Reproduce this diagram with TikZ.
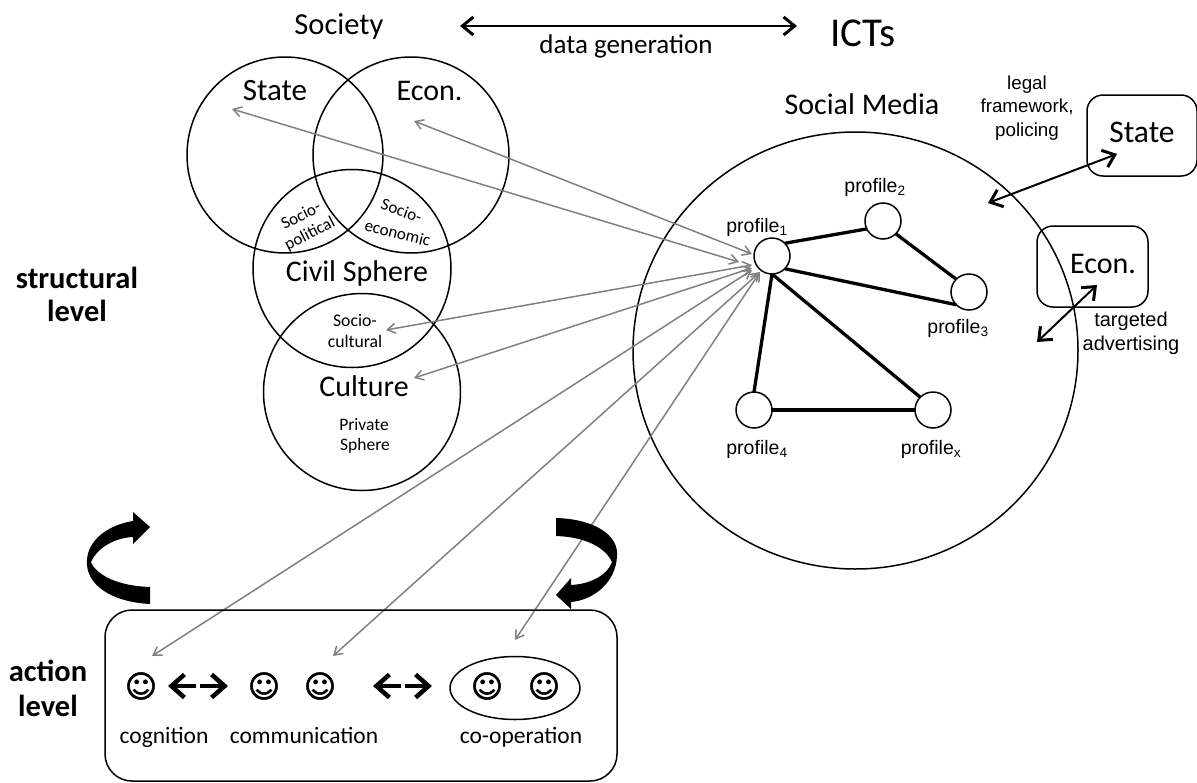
\documentclass[tikz,border=0pt]{standalone}
\usepackage{fontspec}
\setmainfont{Carlito}
\newfontfamily\arialf{Liberation Sans}
\newfontfamily\dejaf[FakeBold=1.6]{DejaVu Sans}
\usetikzlibrary{arrows.meta,shapes.geometric}
\newcommand\fsz[2]{\fontsize{#1}{#2}\selectfont}
\tikzset{
  venn/.style={circle,draw=black,line width=1.5pt,minimum size=#1,inner sep=0pt,outer sep=0pt},
  prof/.style={circle,draw=black,fill=white,line width=1.5pt,minimum size=36pt,inner sep=0pt,outer sep=0pt},
  lbl/.style={inner sep=0pt,outer sep=0pt,align=center,text=black,font=\fsz{#1}{#1}},
  plbl/.style={inner sep=0pt,outer sep=0pt,align=center,text=black,font=\arialf\fsz{19.5}{19.5}},
  sm/.style={inner sep=0pt,outer sep=0pt,font=\dejaf\fsz{31}{31}},
  box/.style={draw=black,line width=1.5pt,rounded corners=16pt,inner sep=0pt,outer sep=0pt},
  edge/.style={draw=black,line width=3.3pt},
  grey/.style={draw=black!50,line width=1.5pt,{Straight Barb[length=8pt,width=10pt]}-{Straight Barb[length=8pt,width=10pt]}},
  blk/.style={draw=black,line width=2pt,{Straight Barb[length=11pt,width=18pt,line width=3pt]}-{Straight Barb[length=11pt,width=18pt,line width=3pt]}},
  thickarrow/.style={draw=black,line width=4.5pt,-{Straight Barb[length=13pt,width=23pt,line width=4.5pt]}},
  swoosh/.style={fill=black,draw=none},
}
\begin{document}
\begin{tikzpicture}[x=1pt,y=-1pt]
\useasboundingbox (0,0) rectangle (1197,782);
% venn
\node[venn=196pt] (vstate) at (285,155) {};
\node[venn=196pt] (vecon) at (411,155) {};
\node[venn=198pt] (vcivil) at (352,268.5) {};
\node[venn=197pt] (vcult) at (362,392) {};
\node[ellipse,draw=black,line width=1.5pt,minimum width=445pt,minimum height=437pt,inner sep=0pt,outer sep=0pt] (social) at (855.5,350.5) {};
% labels
\node[lbl=30.5] (tsoc) at (339,26) {Society};
\node[lbl=41] (tict) at (863,33) {ICTs};
\node[lbl=27] (tdata) at (626,46) {data generation};
\node[lbl=31] (tstate) at (275,91) {State};
\node[lbl=30] (tecon) at (429.5,91) {Econ.};
\node[lbl=30] (tmedia) at (862,104) {Social Media};
\node[lbl=30] (tcivil) at (357,273) {Civil Sphere};
\node[lbl=30] (tcult) at (364,386) {Culture};
\node[lbl=17,rotate=27] (tsp1) at (300.7,215) {Socio-};
\node[lbl=17,rotate=27] (tsp2) at (310,234) {political};
\node[lbl=17,rotate=-20] (tse1) at (401.7,210.7) {Socio-};
\node[lbl=17,rotate=-14] (tse2) at (397.7,233) {economic};
\node[lbl=17.7] (tsc1) at (355,320) {Socio-};
\node[lbl=17.7] (tsc2) at (355,341) {cultural};
\node[lbl=17.5] (tps1) at (364,425) {Private};
\node[lbl=17.5] (tps2) at (365,446) {Sphere};
\node[lbl=25,font=\bfseries\fsz{30.5}{33}] (tstruct) at (77,294) {structural\\level};
\node[lbl=26,font=\bfseries\fsz{30.5}{35}] (taction) at (48,688) {action\\level};
% right boxes
\node[box,minimum width=110pt,minimum height=81pt] (bstate) at (1142,135.5) {};
\node[box,minimum width=111pt,minimum height=81pt] (becon) at (1092.5,266.5) {};
\node[lbl=31.5] (tbstate) at (1142,132) {State};
\node[lbl=30] (tbecon) at (1103,264) {Econ.};
\node[plbl,font=\arialf\fsz{18.8}{23.6}] (tlegal) at (1027,108) {legal\\framework,\\policing};
\node[plbl,font=\arialf\fsz{20}{24}] (tadv) at (1131,333) {targeted\\advertising};
% profiles
\node[prof] (p1) at (772,256) {};
\node[prof] (p2) at (883,221) {};
\node[prof] (p3) at (969,292) {};
\node[prof] (p4) at (754,410) {};
\node[prof] (px) at (933,410) {};
\node[plbl] (l1) at (757,227) {profile\textsubscript{1}};
\node[plbl] (l2) at (875,187) {profile\textsubscript{2}};
\node[plbl] (l3) at (958,328) {profile\textsubscript{3}};
\node[plbl] (l4) at (757,449) {profile\textsubscript{4}};
\node[plbl] (lx) at (931,449) {profile\textsubscript{x}};
\draw[edge] (p1.45) -- (p2.206);
\draw[edge] (p2.-45) -- (p3.135);
\draw[edge] (p1.-45) -- (p3.225);
\draw[edge] (p1.south) -- (p4.north);
\draw[edge] (p1.south) -- (px.135);
\draw[edge] (p4.east) -- (px.west);
% data arrow
\coordinate (da) at (460,26);
\coordinate (db) at (797,26);
\draw[blk] (da) -- (db);
\coordinate (sa) at (1117,154);
\coordinate (sb) at (988,203);
\draw[blk] (sa) -- (sb);
\coordinate (ea) at (1097,285);
\coordinate (eb) at (1037,342);
\draw[blk] (ea) -- (eb);
% grey arrows
\coordinate (g1a) at (232,109); \coordinate (g1b) at (739,262);
\coordinate (g2a) at (414,121); \coordinate (g2b) at (752,254);
\coordinate (g3a) at (386,330); \coordinate (g3b) at (752,265);
\coordinate (g4a) at (414,378); \coordinate (g4b) at (752,268);
\coordinate (g5a) at (152,656); \coordinate (g5b) at (752,270);
\coordinate (g6a) at (333,656); \coordinate (g6b) at (760,272);
\coordinate (g7a) at (515,640); \coordinate (g7b) at (760,272);
\draw[grey] (g1a) -- (g1b);
\draw[grey] (g2a) -- (g2b);
\draw[grey] (g3a) -- (g3b);
\draw[grey] (g4a) -- (g4b);
\draw[grey] (g5a) -- (g5b);
\draw[grey] (g6a) -- (g6b);
\draw[grey] (g7a) -- (g7b);
% action box
\node[box,rounded corners=27pt,minimum width=512pt,minimum height=171pt] (bact) at (361,695.5) {};
\node[sm] (s1) at (141,686) {☺};
\node[sm] (s2) at (264,686) {☺};
\node[sm] (s3) at (320,686) {☺};
\node[sm] (s4) at (487,686) {☺};
\node[sm] (s5) at (544,686) {☺};
\node[draw=black,line width=1.5pt,ellipse,minimum width=130pt,minimum height=63pt,inner sep=0pt] (coop) at (515,688) {};
\node[lbl=23.5,anchor=base] (tcog) at (164,743) {cognition};
\node[lbl=23.5,anchor=base] (tcom) at (304,743) {communication};
\node[lbl=23.5,anchor=base] (tcoo) at (521,743) {co-operation};
\coordinate (a1a) at (196,686); \coordinate (a1b) at (200,686); \coordinate (a1l) at (168,686); \coordinate (a1r) at (228,686);
\coordinate (a2a) at (401,686); \coordinate (a2b) at (405,686); \coordinate (a2l) at (373,686); \coordinate (a2r) at (432,686);
\draw[thickarrow] (a1a) -- (a1l);
\draw[thickarrow] (a1b) -- (a1r);
\draw[thickarrow] (a2a) -- (a2l);
\draw[thickarrow] (a2b) -- (a2r);
% swooshes
\path[swoosh] (150,604) .. controls (112,602) and (85,585) .. (87,560)
  .. controls (88,540) and (108,525) .. (133,521) -- (133,512) -- (150,527) -- (133,544) -- (133,537)
  .. controls (112,538) and (96,550) .. (91,562)
  .. controls (96,575) and (118,586) .. (150,587) -- cycle;
\path[swoosh] (556,518) .. controls (594,519) and (619,535) .. (617,556)
  .. controls (616,582) and (594,600) .. (571,602) -- (571,609) -- (556,595) -- (571,578) -- (571,585)
  .. controls (592,584) and (608,574) .. (612,562)
  .. controls (606,549) and (588,537) .. (556,536) -- cycle;
\end{tikzpicture}
\end{document}
